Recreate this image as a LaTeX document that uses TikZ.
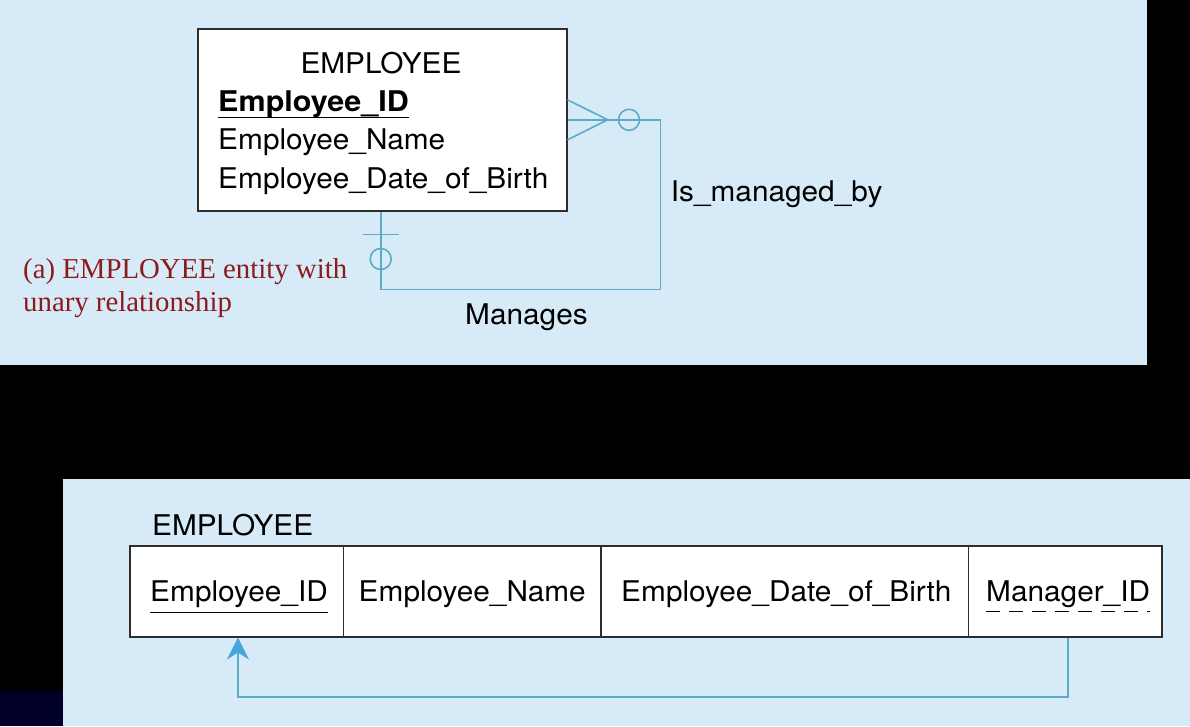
\documentclass[tikz,border=0pt]{standalone}
\usepackage{fontspec}
\setmainfont{Liberation Serif}
\setsansfont[FakeStretch=1.045, BoldFeatures={FakeStretch=1.07}]{TeX Gyre Heros}
\usetikzlibrary{arrows.meta,positioning}
\definecolor{panelblue}{RGB}{214,235,247}
\definecolor{navyblue}{RGB}{0,0,40}
\definecolor{capred}{RGB}{139,28,28}
\definecolor{linkblue}{RGB}{92,172,200}
\definecolor{tipblue}{RGB}{70,165,218}
\definecolor{edgegray}{RGB}{45,45,45}

\tikzset{
	attr/.style={anchor=base west, inner sep=0pt, font=\sffamily\fontsize{28.5}{34}\selectfont},
	caption/.style={anchor=base west, inner sep=0pt, text=capred, font=\rmfamily\fontsize{28.8}{34}\selectfont},
	entbox/.style={draw=edgegray, line width=1.6pt, fill=white, inner sep=0pt},
	link/.style={draw=linkblue, line width=1.6pt},
	ring/.style={link, circle, inner sep=0pt, minimum size=21pt}
}

\begin{document}
\begin{tikzpicture}[x=1pt, y=-1pt]
			%%%%% BACKGROUND %%%%%
			\useasboundingbox (0, 0) rectangle (1190, 726);
			\fill[black] (0, 0) rectangle (1190, 726);
			\fill[navyblue] (0, 690.7) rectangle (62.7, 726);
			\fill[panelblue] (0, 0) rectangle (1146.7, 365);
			\fill[panelblue] (62.7, 479) rectangle (1190, 726);
			
			%%%%% (a) ENTITY %%%%%
			\node[entbox, minimum width=369pt, minimum height=182pt] (emp) at (382.2, 119.8) {};
			\node[attr, anchor=base] (title) at (381, 73.3) {EMPLOYEE};
			\node[attr] (pk) at (218, 111) {\bfseries Employee\_ID};
			\draw[line width=1.2pt] ([yshift=-6.7pt]pk.base west) -- ([yshift=-6.7pt]pk.base east);
			\node[attr] (name) at (218, 149.5) {Employee\_Name};
			\node[attr] (dob) at (218, 188.8) {Employee\_Date\_of\_Birth};
			
			% crow's foot, zero or many
			\coordinate (cf) at (607.7, 119.8);
			\draw[link] ([yshift=20pt]emp.east) -- (cf) -- ([yshift=-20pt]emp.east);
			\node[ring] (o1) at (629, 119.8) {};
			
			% loop back to the entity
			\coordinate (ne) at (660.3, 119.8);
			\coordinate (sw) at (380.7, 289.3);
			\draw[link] (emp.east) -- (ne) |- (sw) -- (sw |- emp.south);
			
			% zero or one
			\coordinate (bar) at (380.7, 234.3);
			\draw[link] ([xshift=-18pt]bar) -- ([xshift=18pt]bar);
			\node[ring] (o2) at (380.7, 259) {};
			
			\node[attr] (isby) at (670.7, 201.7) {Is\_managed\_by};
			\node[attr] (mgs) at (465, 324) {Manages};
			
			\node[caption] (cap1) at (23, 278.3) {(a) EMPLOYEE entity with};
			\node[caption] (cap2) at (23, 311.7) {unary relationship};
			
			%%%%% RELATION %%%%%
			\node[attr] (rel) at (152, 535) {EMPLOYEE};
			
			\node[entbox, minimum width=213.3pt, minimum height=90.7pt] (c1) at (236.65, 591.35) {};
			\node[entbox, minimum width=257.7pt, minimum height=90.7pt] (c2) at (472.15, 591.35) {};
			\node[entbox, minimum width=367.3pt, minimum height=90.7pt] (c3) at (784.65, 591.35) {};
			\node[entbox, minimum width=193.4pt, minimum height=90.7pt] (c4) at (1065, 591.35) {};
			
			\node[attr] (eid) at (150, 601.7) {Employee\_ID};
			\draw[line width=1.2pt] ([yshift=-11pt]eid.base west) -- ([yshift=-11pt]eid.base east);
			\node[attr] (ename) at (358.5, 601.7) {Employee\_Name};
			\node[attr] (edob) at (621, 601.7) {Employee\_Date\_of\_Birth};
			\node[attr] (mid) at (986, 601.7) {Manager\_ID};
			\draw[line width=1.2pt, dash pattern=on 14pt off 9pt] ([yshift=-10pt]mid.base west) -- ([yshift=-10pt]mid.base east);
			
			% foreign key back to the primary key
			\coordinate (fk) at (1067.7, 696.7);
			\draw[link, -{Stealth[length=22pt, width=22pt, inset=7pt, color=tipblue]}]
				(fk |- c4.south) -- (fk) -| ([xshift=1.3pt]c1.south);
			
			%%%%% END %%%%%
\end{tikzpicture}
\end{document}
